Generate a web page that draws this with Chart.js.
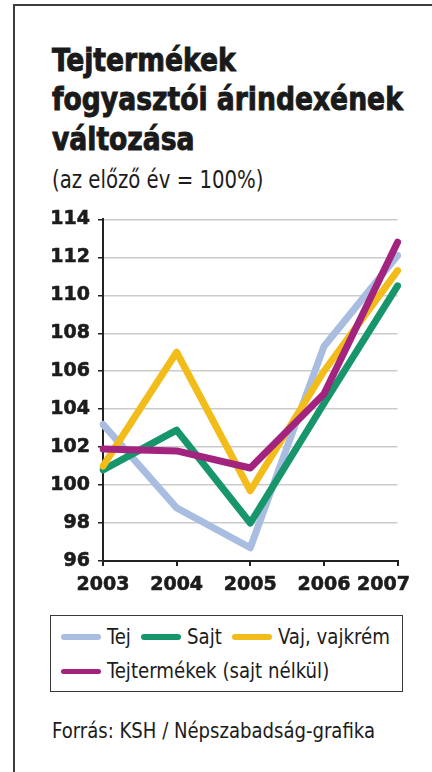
<!DOCTYPE html>
<html>
<head>
<meta charset="utf-8">
<script src="https://cdn.jsdelivr.net/npm/chart.js@4"></script>
<style>
  html, body { margin: 0; padding: 0; background: #fff; }
  body { width: 432px; height: 772px; position: relative; overflow: hidden; color: #1c1c1c; }
  #frame { position: absolute; left: 13px; top: 4px; width: 440px; height: 800px;
           border-left: 2px solid #3c3c3c; border-top: 2px solid #3c3c3c; }
  .txt { position: absolute; left: 52px; white-space: nowrap; line-height: 1;
         font-family: "DejaVu Sans Condensed", "DejaVu Sans", sans-serif; transform-origin: 0 0; }
  .title { font-size: 32px; font-weight: bold; color: #1a1a1a; -webkit-text-stroke: 0.9px #1a1a1a; }
  #wrap { position: absolute; left: 0; top: 200px; width: 432px; height: 400px; }
  #legend { position: absolute; left: 50px; top: 615px; width: 351px; height: 75px;
            border: 1.5px solid #3a3a3a; }
  .row { position: absolute; left: 10px; display: flex; align-items: flex-start; gap: 10px; }
  .item { display: flex; align-items: flex-start; }
  .swatch { width: 40px; height: 5.5px; border-radius: 3px; margin-top: 7.7px; margin-right: 6px; }
  .lab { font-family: "DejaVu Sans Condensed", "DejaVu Sans", sans-serif; font-size: 21px;
         line-height: 1; white-space: nowrap; display: inline-block; transform-origin: 0 0; }
</style>
</head>
<body>
<div id="frame"></div>
<div class="txt title fit-title" id="t1" style="top:43.6px">Tejtermékek</div>
<div class="txt title fit-title" id="t2" style="top:83.1px">fogyasztói árindexének</div>
<div class="txt title fit-title" id="t3" style="top:122.6px">változása</div>
<div class="txt" id="sub" style="top:167px;font-size:25px">(az előző év = 100%)</div>
<div id="wrap"><canvas id="chart" width="432" height="400"></canvas></div>
<div id="legend"></div>
<div class="txt" id="src" style="top:719.7px;font-size:22px">Forrás: KSH / Népszabadság-grafika</div>

<script>
const years = ["2003", "2004", "2005", "2006", "2007"];
const tej = [103.2, 98.8, 96.7, 107.3, 112.1];
const sajt = [100.8, 102.9, 98.0, 104.3, 110.5];
const vaj = [101.0, 107.0, 99.7, 106.0, 111.3];
const tejtermekek = [101.9, 101.8, 100.9, 104.8, 112.8];

const seriesNames = ["Tej", "Sajt", "Vaj, vajkrém", "Tejtermékek (sajt nélkül)"];
const seriesColors = ["#a9bde0", "#17956b", "#f2bd1a", "#a3247f"];
const seriesData = [tej, sajt, vaj, tejtermekek];

const yMin = 96, yMax = 114, yStep = 2;

// squeeze a block of text horizontally so it takes the given width
function squeeze(el, f) {
  const w = el.offsetWidth;
  el.style.width = (w * f) + "px";
  el.style.transform = "scaleX(" + f + ")";
}
function factorFor(el, target) {
  return target / el.offsetWidth;
}

// legend
const legend = document.getElementById("legend");
const rows = [[0, 1, 2], [3]];
const rowTops = [627 - 616.5, 661.5 - 616.5];
rows.forEach((idxs, r) => {
  const row = document.createElement("div");
  row.className = "row";
  row.style.top = rowTops[r] + "px";
  idxs.forEach(i => {
    const item = document.createElement("div");
    item.className = "item";
    item.innerHTML = `<span class="swatch" style="background:${seriesColors[i]}"></span><span class="lab">${seriesNames[i]}</span>`;
    row.appendChild(item);
  });
  legend.appendChild(row);
});

document.fonts.ready.then(() => {
  const tf = factorFor(document.getElementById("t2"), 351);
  document.querySelectorAll(".fit-title").forEach(el => squeeze(el, tf));
  const sub = document.getElementById("sub");
  squeeze(sub, factorFor(sub, 211));
  const src = document.getElementById("src");
  squeeze(src, factorFor(src, 323));
  const labs = document.querySelectorAll(".lab");
  const lf = factorFor(labs[3], 222);
  labs.forEach(el => squeeze(el, lf));
});

const shiftLastYear = {
  id: "shiftLastYear",
  beforeDraw(chart) {
    const items = chart.scales.x.getLabelItems();
    const last = items[items.length - 1];
    if (last && !last._moved) {
      last.options.translation[0] -= 14;
      last._moved = true;
    }
  }
};

Chart.defaults.font.family = "DejaVu Sans";
Chart.defaults.color = "#1c1c1c";

const tickFont = { size: 19, weight: "bold" };

const ctx = document.getElementById("chart").getContext("2d");
const chart = new Chart(ctx, {
  type: "line",
  data: {
    labels: years,
    datasets: seriesData.map((d, i) => ({
      label: seriesNames[i],
      data: d,
      borderColor: seriesColors[i],
      backgroundColor: seriesColors[i],
      borderWidth: 7,
      borderCapStyle: "round",
      borderJoinStyle: "round",
      pointRadius: 0,
      tension: 0,
      order: 4 - i
    }))
  },
  options: {
    responsive: false,
    animation: false,
    layout: { padding: { top: 16, right: 29, left: 0, bottom: 0 } },
    plugins: { legend: { display: false }, tooltip: { enabled: false } },
    scales: {
      x: {
        offset: false,
        grid: { drawOnChartArea: false, tickColor: "#222", tickLength: 5, lineWidth: 2 },
        border: { color: "#222", width: 2 },
        ticks: { font: tickFont, color: "#1c1c1c", textStrokeColor: "#1c1c1c", textStrokeWidth: 0.6,
                 padding: 8, maxRotation: 0 },
        afterFit(scale) { scale.height = 39; }
      },
      y: {
        min: yMin,
        max: yMax,
        grid: { color: "#cbcbcb", lineWidth: 1.5, tickColor: "#222", tickLength: 5 },
        border: { color: "#222", width: 2 },
        ticks: { stepSize: yStep, font: tickFont, color: "#1c1c1c", textStrokeColor: "#1c1c1c",
                 textStrokeWidth: 0.6, padding: 8 },
        afterFit(scale) { scale.width = 103; }
      }
    }
  },
  plugins: [shiftLastYear]
});
</script>
</body>
</html>
